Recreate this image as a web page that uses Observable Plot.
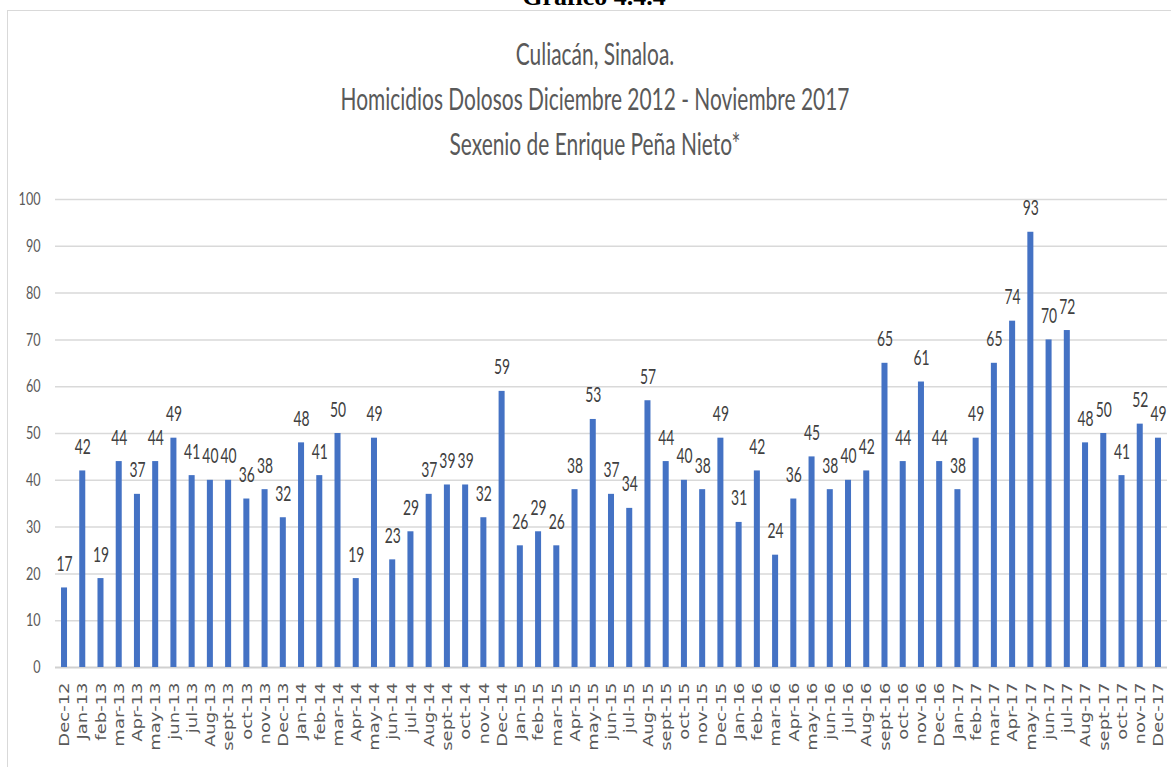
<!DOCTYPE html>
<html>
<head>
<meta charset="utf-8">
<script src="https://cdn.jsdelivr.net/npm/d3@7"></script>
<script src="https://cdn.jsdelivr.net/npm/@observablehq/plot@0.6"></script>
<style>
  body { margin: 0; background: #fff; width: 1171px; height: 767px; overflow: hidden; position: relative; }
  #frame { position: absolute; left: 7px; top: 10px; width: 1200px; height: 800px; border: 1.5px solid #d9d9d9; box-sizing: border-box; }
  #titles { position: absolute; left: 0; top: 0; }
  #chart { position: absolute; left: 0; top: 170px; }
</style>
</head>
<body>
<div id="frame"></div>
<svg id="titles" width="1171" height="170"></svg>
<div id="chart"></div>
<script>
// Monthly intentional homicides, Culiacán (Dec 2012 – Dec 2017)
const months = [
  "Dec-12", "Jan-13", "feb-13", "mar-13", "Apr-13", "may-13", "jun-13", "jul-13", "Aug-13", "sept-13", "oct-13", "nov-13",
  "Dec-13", "Jan-14", "feb-14", "mar-14", "Apr-14", "may-14", "jun-14", "jul-14", "Aug-14", "sept-14", "oct-14", "nov-14",
  "Dec-14", "Jan-15", "feb-15", "mar-15", "Apr-15", "may-15", "jun-15", "jul-15", "Aug-15", "sept-15", "oct-15", "nov-15",
  "Dec-15", "Jan-16", "feb-16", "mar-16", "Apr-16", "may-16", "jun-16", "jul-16", "Aug-16", "sept-16", "oct-16", "nov-16",
  "Dec-16", "Jan-17", "feb-17", "mar-17", "Apr-17", "may-17", "jun-17", "jul-17", "Aug-17", "sept-17", "oct-17", "nov-17",
  "Dec-17"
];
const homicides = [
  17, 42, 19, 44, 37, 44, 49, 41, 40, 40, 36, 38,
  32, 48, 41, 50, 19, 49, 23, 29, 37, 39, 39, 32,
  59, 26, 29, 26, 38, 53, 37, 34, 57, 44, 40, 38,
  49, 31, 42, 24, 36, 45, 38, 40, 42, 65, 44, 61,
  44, 38, 49, 65, 74, 93, 70, 72, 48, 50, 41, 52,
  49
];
const yTicks = [0, 10, 20, 30, 40, 50, 60, 70, 80, 90, 100];

const figureLabel = "Gráfico 4.4.4";
const titleLines = [
  "Culiacán, Sinaloa.",
  "Homicidios Dolosos Diciembre 2012 - Noviembre 2017",
  "Sexenio de Enrique Peña Nieto*"
];

// Heading block above the chart
const titles = d3.select("#titles");
titles.append("text")
  .attr("x", 594).attr("y", 5)
  .attr("text-anchor", "middle")
  .attr("font-family", "Liberation Serif, serif")
  .attr("font-weight", "bold")
  .attr("font-size", 26)
  .attr("fill", "#000")
  .text(figureLabel);
titleLines.forEach((line, i) => {
  const y = 65 + i * 45;
  titles.append("text")
    .attr("x", 595).attr("y", y)
    .attr("text-anchor", "middle")
    .attr("font-family", "Lato, sans-serif")
    .attr("font-size", 31)
    .attr("fill", "#595959")
    .attr("transform", `translate(595,${y}) scale(0.675,1) translate(-595,${-y})`)
    .text(line);
});

const data = months.map((m, i) => ({month: m, value: homicides[i]}));

const chart = Plot.plot({
  width: 1171,
  height: 597,
  marginLeft: 55,
  marginRight: 4,
  marginTop: 29,
  marginBottom: 100,
  style: {background: "transparent"},
  x: {domain: months, padding: 0.67, range: [48.8, 1173.2], round: false, label: null},
  y: {domain: [0, 100], label: null},
  marks: [
    Plot.ruleY(yTicks.slice(1), {stroke: "#d9d9d9", strokeWidth: 1.5}),
    Plot.ruleY([0], {stroke: "#d0d0d0", strokeWidth: 2}),
    Plot.barY(data, {x: "month", y: "value", fill: "#4472c4"}),
    Plot.text(data, {
      x: "month", y: "value", text: d => String(d.value),
      lineAnchor: "bottom", dy: -17,
      fill: "#404040", fontSize: 21, fontFamily: "Lato, sans-serif",
      className: "value-labels"
    }),
    Plot.axisY({
      ticks: yTicks, tickSize: 0, tickPadding: 15, label: null,
      fill: "#595959", fontSize: 18, fontFamily: "Lato, sans-serif",
      className: "y-ticks"
    }),
    Plot.axisX({
      tickSize: 0, tickPadding: 15, tickRotate: -90, label: null,
      fill: "#595959", fontSize: 18, fontFamily: "DejaVu Sans, sans-serif",
      className: "x-ticks"
    })
  ]
});

document.getElementById("chart").append(chart);

// Narrow the glyphs to get the condensed lettering
function squeeze(selector, sx, sy) {
  chart.querySelectorAll(selector).forEach(t => {
    const tr = t.getAttribute("transform") || "";
    t.setAttribute("transform", `${tr} scale(${sx},${sy})`);
  });
}
squeeze(".value-labels text", 0.66, 1);
squeeze(".y-ticks text", 0.7, 1);
squeeze(".x-ticks text", 1, 0.82);
</script>
</body>
</html>
